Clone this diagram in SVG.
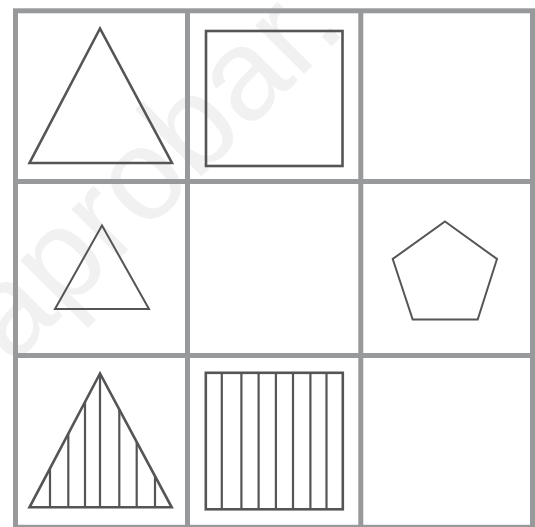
<svg xmlns="http://www.w3.org/2000/svg" width="535" height="527" viewBox="0 0 535 527">
<style>
.grid{stroke:#97999b;stroke-width:5;fill:none}
.shape{stroke:#555557;stroke-width:2.6;fill:none;stroke-linejoin:miter}
.thin{stroke:#555557;stroke-width:2;fill:none}
.hatch{stroke:#555557;stroke-width:2.2}
.wm{font-family:"Liberation Sans",Arial,sans-serif;font-size:130px;fill:#f1f1f1}
</style>
<rect width="535" height="527" fill="#ffffff"/>
<text class="wm" transform="translate(11.6,366.4) rotate(-45)">aprobar.</text>
<g id="grid">
<rect class="grid" x="15.5" y="10.8" width="517" height="516.5"/>
<line class="grid" x1="187.5" y1="10.8" x2="187.5" y2="527.3"/>
<line class="grid" x1="360.8" y1="10.8" x2="360.8" y2="527.3"/>
<line class="grid" x1="15.5" y1="181.5" x2="532.5" y2="181.5"/>
<line class="grid" x1="15.5" y1="355.5" x2="532.5" y2="355.5"/>
</g>
<g id="triangle-large">
<polygon class="shape" points="100,28.5 29.5,163 172,163"/>
</g>
<g id="square">
<rect class="shape" x="206" y="31" width="136.5" height="135"/>
</g>
<g id="triangle-small">
<polygon class="thin" points="102,225.5 55,309 149,309"/>
</g>
<g id="pentagon">
<polygon class="thin" points="445,221.5 497,259 477.7,319.5 412.7,319.5 392.7,259"/>
</g>
<g id="triangle-hatched">
<polygon class="shape" points="100,373.5 29.5,507.3 171.7,507.3"/>
<g class="hatch">
<line x1="50" y1="469" x2="50" y2="507.3"/>
<line x1="68.3" y1="434" x2="68.3" y2="507.3"/>
<line x1="85" y1="402" x2="85" y2="507.3"/>
<line x1="100" y1="373.5" x2="100" y2="507.3"/>
<line x1="119.3" y1="409.4" x2="119.3" y2="507.3"/>
<line x1="136.7" y1="441.9" x2="136.7" y2="507.3"/>
<line x1="155" y1="476.1" x2="155" y2="507.3"/>
</g>
</g>
<g id="square-hatched">
<rect class="shape" x="205.8" y="372.8" width="137" height="136.5"/>
<g class="hatch">
<line x1="221.8" y1="372.8" x2="221.8" y2="509.3"/>
<line x1="241.4" y1="372.8" x2="241.4" y2="509.3"/>
<line x1="258.6" y1="372.8" x2="258.6" y2="509.3"/>
<line x1="275.9" y1="372.8" x2="275.9" y2="509.3"/>
<line x1="293" y1="372.8" x2="293" y2="509.3"/>
<line x1="310.4" y1="372.8" x2="310.4" y2="509.3"/>
<line x1="326.5" y1="372.8" x2="326.5" y2="509.3"/>
</g>
</g>
</svg>
